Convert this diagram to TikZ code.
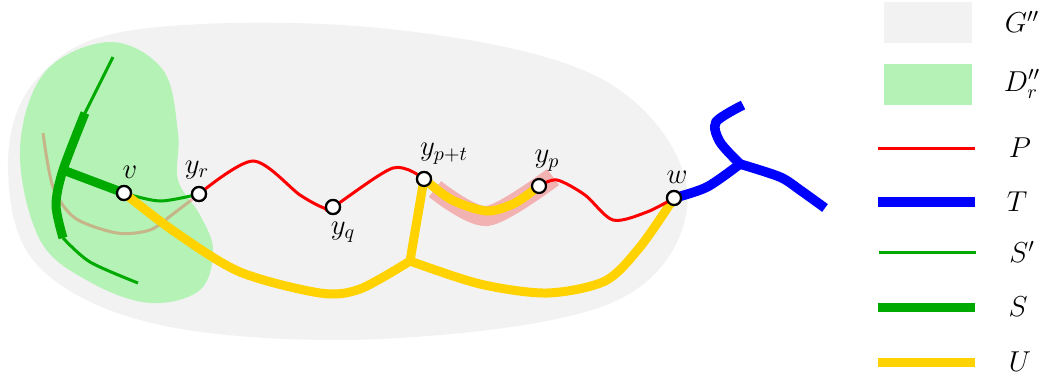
\documentclass[tikz,border=0pt]{standalone}
\usepackage{amsmath}
\usepackage{tikz}
\usetikzlibrary{arrows.meta}

\definecolor{gbg}{RGB}{242,242,242}
\definecolor{dgreen}{RGB}{180,242,182}
\definecolor{sgreen}{RGB}{0,170,0}
\definecolor{uyellow}{RGB}{255,210,0}
\definecolor{hlpink}{RGB}{242,178,178}

\begin{document}
\begin{tikzpicture}[
        x=0.5pt, y=-0.5pt,
        every node/.style={font=\fontsize{14}{17}\selectfont},
        vertex/.style={circle, draw=black, fill=white, line width=1.1pt, inner sep=0pt, minimum size=7pt},
        lbl/.style={inner sep=1pt},
        every label/.style={label distance=2.2pt},
        pathP/.style={red, line width=1.5pt},
        treeT/.style={blue, line width=4.8pt},
        thinS/.style={sgreen, line width=1.5pt},
        thickS/.style={sgreen, line width=4.5pt},
        treeU/.style={uyellow, line width=4.5pt},
        faded/.style={red, opacity=0.25, line width=1.5pt},
        highlight/.style={hlpink, line width=10pt}
      ]
        \useasboundingbox (0,0) rectangle (1044,376);

        % regions G'' and D''_r
        \fill[gbg] plot[smooth cycle, tension=0.6] coordinates {(8,168) (36,80) (133,30) (380,28) (600,78) (687,190) (622,298) (400,338) (170,327) (40,268)};
        \fill[dgreen] plot[smooth cycle, tension=0.6] coordinates {(110,42) (163,70) (178,133) (178,180) (200,215) (213,250) (200,290) (150,303) (90,282) (40,240) (20,150) (45,72)};

        \node[vertex] (v) at (124,193) {};
        \node[vertex] (yr) at (199,194) {};
        \node[vertex] (yq) at (333,207) {};
        \node[vertex] (ypt) at (424,179) {};
        \node[vertex] (yp) at (539,186) {};
        \node[vertex] (w) at (674,198) {};
        \coordinate (g0) at (63,170);
        \coordinate (g1) at (85,113);
        \coordinate (g2) at (63,238);
        \coordinate (u0) at (410,261);
        \coordinate (t0) at (740,164);

        % old path, faded
        \draw[faded] plot[smooth] coordinates {(43,133) (53,187) (75,218) (117,233) (150,230) (173,214) (yr.center)};

        % S and S'
        \draw[thinS] (113,57) -- (g1);
        \draw[thickS] plot[smooth] coordinates {(g1) (g0) (56,205) (g2)};
        \draw[thinS] plot[smooth] coordinates {(g2) (90,262) (138,283)};
        \draw[thickS] (g0) -- (v.center);
        \draw[thinS] plot[smooth] coordinates {(v.center) (160,201) (yr.center)};

        % U
        \draw[highlight] plot[smooth] coordinates {(435,189) (487,216) (553,177)};
        \draw[treeU] plot[smooth] coordinates {(v.center) (175,232) (240,272) (320,293) (360,289) (u0)};
        \draw[treeU] (u0) -- (ypt.center);
        \draw[treeU] plot[smooth] coordinates {(u0) (480,284) (547,293) (605,281) (640,247) (w.center)};
        \draw[treeU] plot[smooth] coordinates {(ypt.center) (452,200) (487,211) (515,203) (yp.center)};

        % P
        \draw[pathP] plot[smooth] coordinates {(yr.center) (253,161) (300,195) (324,208) (yq.center) (393,168) (ypt.center)};
        \draw[pathP] plot[smooth] coordinates {(yp.center) (557,180) (585,195) (613,220) (647,212) (w.center)};

        % T
        \draw[treeT] plot[smooth] coordinates {(w.center) (707,187) (t0)};
        \draw[treeT] plot[smooth] coordinates {(t0) (720,142) (716,122) (743,105)};
        \draw[treeT] plot[smooth] coordinates {(t0) (780,177) (800,190) (825,208)};

        % vertices on top
        \node[vertex, label={[lbl, xshift=3pt]above:$v$}] at (v) {};
        \node[vertex, label={[lbl, xshift=-1pt]above:$y_r$}] at (yr) {};
        \node[vertex, label={[lbl, xshift=5pt]below:$y_q$}] at (yq) {};
        \node[vertex, label={[lbl, xshift=10pt]above:$y_{p+t}$}] at (ypt) {};
        \node[vertex, label={[lbl, xshift=4pt]above:$y_p$}] at (yp) {};
        \node[vertex, label={[lbl, xshift=1.5pt]above:$w$}] at (w) {};

        % legend
        \fill[gbg] (884,2) rectangle (972,43);
        \fill[dgreen] (884,64) rectangle (972,105);
        \draw[pathP] (878,148) -- (975,148);
        \draw[treeT] (878,202) -- (975,202);
        \draw[thinS] (879,252) -- (976,252);
        \draw[thickS] (878,307) -- (975,307);
        \draw[treeU] (878,362) -- (975,362);
        \node (lG) at (1022,22) {$G''$};
        \node (lD) at (1022,84) {$D''_r$};
        \node (lP) at (1020,148) {$P$};
        \node (lT) at (1017,202) {$T$};
        \node (lSp) at (1022,252) {$S'$};
        \node (lS) at (1018,307) {$S$};
        \node (lU) at (1020,362) {$U$};

    \end{tikzpicture}
\end{document}
